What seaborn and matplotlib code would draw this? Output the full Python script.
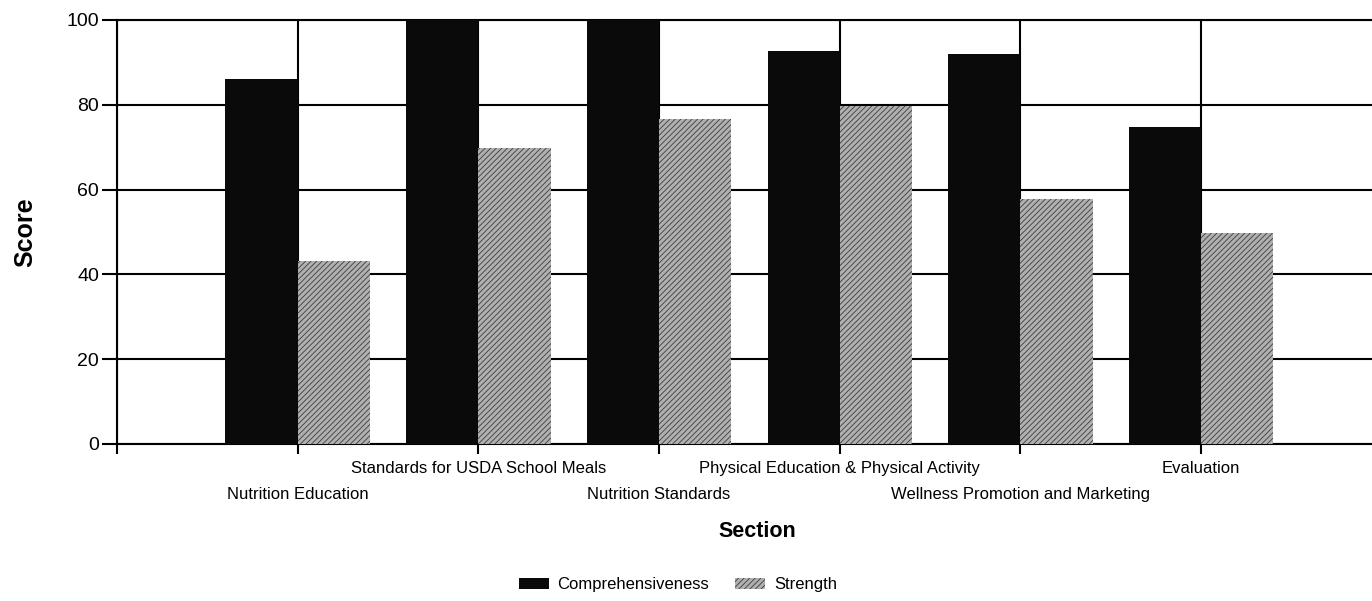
import numpy as np
import pandas as pd
import matplotlib
matplotlib.use("Agg")
import matplotlib.pyplot as plt
from matplotlib.patches import Patch
import seaborn as sns

# Section scores
sections = [
    "Nutrition Education",
    "Standards for USDA School Meals",
    "Nutrition Standards",
    "Physical Education & Physical Activity",
    "Wellness Promotion and Marketing",
    "Evaluation",
]
measures = ["Comprehensiveness", "Strength"]
comprehensiveness = [86.0, 100.0, 100.0, 92.7, 92.0, 74.8]
strength = [43.2, 69.7, 76.6, 79.6, 57.9, 49.8]
y_ticks = [0, 20, 40, 60, 80, 100]

COMP_COLOR = "#0a0a0a"
STR_FACE = "#b0b0b0"
STR_HATCH = "#3c3c3c"

sns.set_theme(style="white")
plt.rcParams["font.family"] = ["Liberation Sans", "DejaVu Sans"]
plt.rcParams["hatch.linewidth"] = 0.6
plt.rcParams["text.color"] = "black"
plt.rcParams["axes.labelcolor"] = "black"
plt.rcParams["xtick.labelcolor"] = "black"
plt.rcParams["ytick.labelcolor"] = "black"

positions = np.arange(1, len(sections) + 1)
df = pd.DataFrame({
    "pos": np.tile(positions, len(measures)),
    "Measure": np.repeat(measures, len(sections)),
    "Score": comprehensiveness + strength,
})

W, H = 1372, 601
fig = plt.figure(figsize=(W / 100, H / 100), dpi=100)
ax = fig.add_axes([117 / W, 1 - 444 / H, 7 * 180.7 / W, 424 / H])

sns.barplot(
    data=df, x="pos", y="Score", hue="Measure", hue_order=measures,
    native_scale=True, width=0.8, saturation=1,
    palette=[COMP_COLOR, STR_FACE], legend=False, ax=ax, zorder=3,
)

# dithered look for the Strength bars
for bar in ax.containers[1]:
    bar.set_hatch("//////")
    bar.set_edgecolor(STR_HATCH)
    bar.set_linewidth(0)
for bar in ax.containers[0]:
    bar.set_linewidth(0)

ax.set_xlim(0, 7)
ax.set_ylim(0, 100)

# staggered section labels: upper row on major ticks, lower row on minor ticks
upper = [0] + [p for i, p in enumerate(positions) if i % 2 == 1]
lower = [p for i, p in enumerate(positions) if i % 2 == 0]
ax.set_xticks(upper)
ax.set_xticklabels([""] + [s for i, s in enumerate(sections) if i % 2 == 1], fontsize=12)
ax.set_xticks(lower, minor=True)
ax.set_xticklabels([s for i, s in enumerate(sections) if i % 2 == 0], minor=True, fontsize=12)

ax.set_yticks(y_ticks)
ax.set_yticklabels([str(v) for v in y_ticks], fontsize=14)

ax.tick_params(axis="x", which="major", length=7, width=1.5, color="black", pad=5.3,
               direction="out", bottom=True, labelcolor="black")
ax.tick_params(axis="x", which="minor", length=7, width=1.5, color="black", pad=24,
               direction="out", bottom=True, labelcolor="black")
ax.tick_params(axis="y", length=11, width=1.5, color="black", pad=2, direction="out",
               left=True, labelcolor="black")

ax.grid(True, axis="x", which="both", color="black", linewidth=1.5, zorder=1)
ax.grid(True, axis="y", which="major", color="black", linewidth=1.5, zorder=1)
ax.set_axisbelow(True)
ax.spines["right"].set_visible(False)
for side in ["left", "bottom", "top"]:
    ax.spines[side].set_color("black")
    ax.spines[side].set_linewidth(1.5)

ax.set_xlabel("Section", fontsize=15.5, fontweight="bold", color="black")
ax.xaxis.set_label_coords((757 - 117) / (7 * 180.7), (444 - 521) / 424)
ax.set_ylabel("Score", fontsize=18, fontweight="bold", labelpad=21, color="black")

# legend
handles = [
    Patch(facecolor=COMP_COLOR, linewidth=0),
    Patch(facecolor=STR_FACE, edgecolor=STR_HATCH, hatch="//////", linewidth=0),
]
fig.legend(handles, measures, loc="center", bbox_to_anchor=(0.494, 1 - 585 / H),
           ncol=2, frameon=False, fontsize=12, handlelength=1.8, handleheight=0.6,
           columnspacing=1.6, handletextpad=0.5, labelcolor="black")

fig.savefig("out.png", dpi=100)
